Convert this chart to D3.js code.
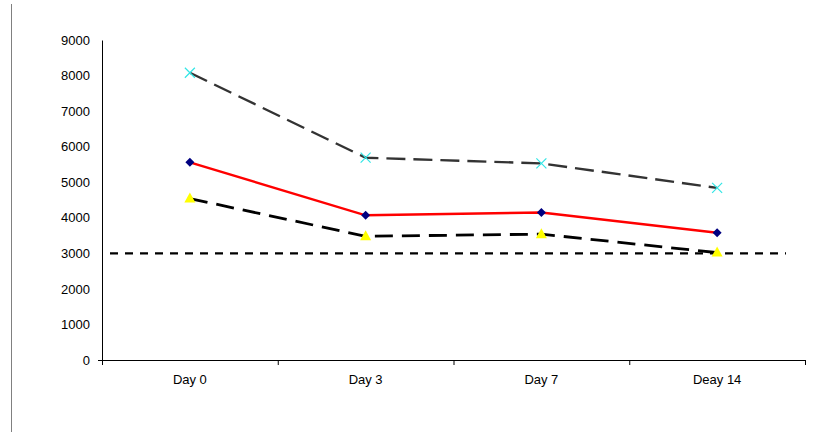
<!DOCTYPE html>
<html><head><meta charset="utf-8">
<script src="https://cdn.jsdelivr.net/npm/d3@7"></script>
<style>body{margin:0;background:#fff}svg{display:block}</style>
</head><body>
<svg id="c" width="814" height="432"></svg>
<script>
const categories = ["Day 0", "Day 3", "Day 7", "Deay 14"];
const yTicks = [0, 1000, 2000, 3000, 4000, 5000, 6000, 7000, 8000, 9000];
const seriesCyan = [8080, 5690, 5530, 4840];
const seriesRed = [5560, 4070, 4150, 3580];
const seriesYellow = [4540, 3480, 3540, 3020];
const thresholdValue = 3000;

const svg = d3.select("#c");
const font = "'Liberation Sans', Arial, sans-serif";
const x0 = 102, x1 = 805, yTop = 40, yBot = 360;
const x = d3.scaleBand().domain(categories).range([x0, x1]).padding(0);
const y = d3.scaleLinear().domain([0, 9000]).range([yBot, yTop]);
const cx = c => x(c) + x.bandwidth() / 2;

// outer left border
svg.append("line").attr("x1", 11.5).attr("x2", 11.5).attr("y1", 4).attr("y2", 432)
  .attr("stroke", "#808080").attr("stroke-width", 1);

// y axis
const ya = svg.append("g").attr("transform", `translate(${x0},0)`)
  .call(d3.axisLeft(y).tickValues(yTicks).tickSize(0).tickPadding(12).tickFormat(d3.format("d")));
ya.select(".domain").attr("stroke", "#000").attr("stroke-width", 1);
ya.selectAll("text").attr("font-family", font).attr("font-size", 13).attr("fill", "#000");

// x axis
const xa = svg.append("g").attr("transform", `translate(0,${yBot})`)
  .call(d3.axisBottom(x).tickSize(0).tickPadding(15));
xa.select(".domain").attr("stroke", "#000").attr("stroke-width", 1.2).attr("d", `M${x0-4},0.5H${x1}`);
xa.selectAll("text").attr("font-family", font).attr("font-size", 13).attr("fill", "#000");
// band boundary ticks
const bounds = categories.map(c => x(c)).concat([x1]);
svg.append("g").selectAll("line").data(bounds).join("line")
  .attr("x1", d => d + 0.5).attr("x2", d => d + 0.5).attr("y1", yBot).attr("y2", yBot + 5)
  .attr("stroke", "#000").attr("stroke-width", 1);

// threshold line
svg.append("line").attr("x1", 110).attr("x2", 786)
  .attr("y1", y(thresholdValue)).attr("y2", y(thresholdValue))
  .attr("stroke", "#000").attr("stroke-width", 2.4).attr("stroke-dasharray", "8,7");

const line = d3.line().x((d, i) => cx(categories[i])).y(d => y(d));

// grey dashed series (cyan x markers)
svg.append("path").attr("d", line(seriesCyan)).attr("fill", "none")
  .attr("stroke", "#333").attr("stroke-width", 2.4).attr("stroke-dasharray", "19,8");
svg.append("g").selectAll("path").data(seriesCyan).join("path")
  .attr("d", (d, i) => { const px = cx(categories[i]), py = y(d), s = 5;
    return `M${px-s},${py-s}L${px+s},${py+s}M${px-s},${py+s}L${px+s},${py-s}`; })
  .attr("stroke", "#33e6e6").attr("stroke-width", 1.2).attr("fill", "none");

// black dashed series (yellow triangles)
svg.append("path").attr("d", line(seriesYellow)).attr("fill", "none")
  .attr("stroke", "#000").attr("stroke-width", 2.8).attr("stroke-dasharray", "18,9");
svg.append("g").selectAll("path").data(seriesYellow).join("path")
  .attr("d", (d, i) => { const px = cx(categories[i]), py = y(d);
    return `M${px},${py-6}L${px+5.5},${py+4}L${px-5.5},${py+4}Z`; })
  .attr("fill", "#ffff00");

// red series (navy diamonds)
svg.append("path").attr("d", line(seriesRed)).attr("fill", "none")
  .attr("stroke", "#ff0000").attr("stroke-width", 2.4);
svg.append("g").selectAll("path").data(seriesRed).join("path")
  .attr("d", (d, i) => { const px = cx(categories[i]), py = y(d), s = 4.5;
    return `M${px},${py-s}L${px+s},${py}L${px},${py+s}L${px-s},${py}Z`; })
  .attr("fill", "#000080");
</script>
</body></html>
